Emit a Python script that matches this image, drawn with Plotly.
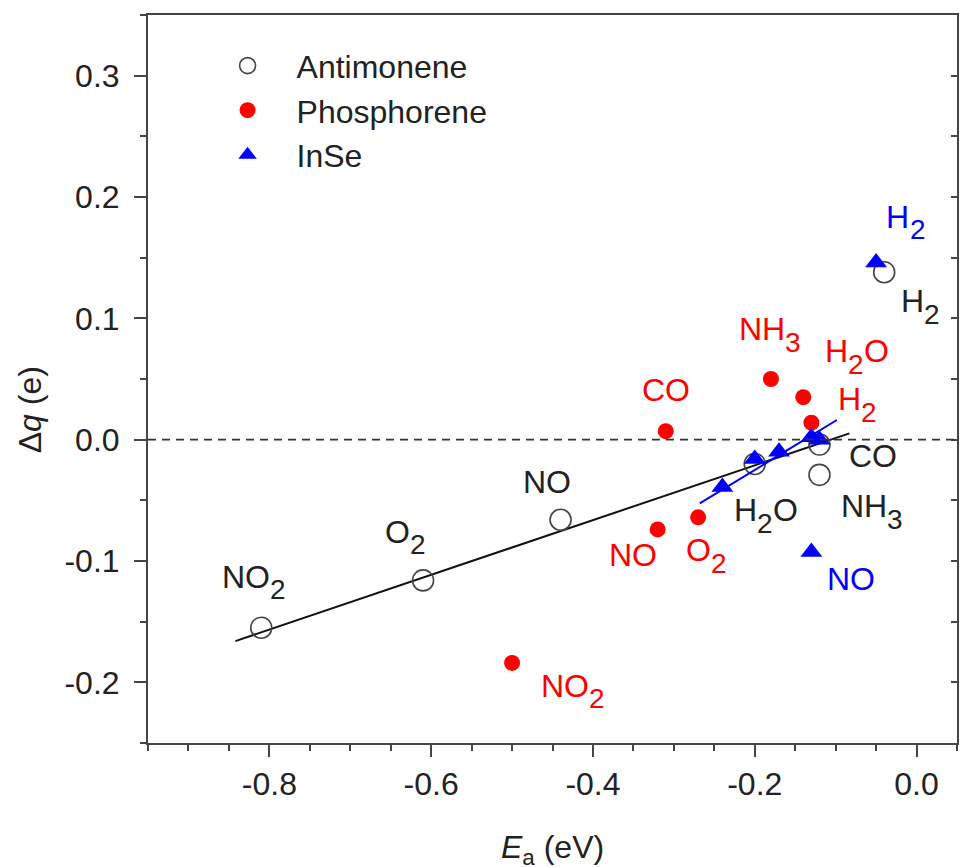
import re
import plotly.graph_objects as go

# ---------------- data ----------------
sb_ea = [-0.81, -0.61, -0.44, -0.20, -0.12, -0.12, -0.04]
sb_dq = [-0.155, -0.116, -0.066, -0.020, -0.004, -0.029, 0.138]

p_ea = [-0.50, -0.32, -0.27, -0.31, -0.18, -0.14, -0.13]
p_dq = [-0.184, -0.074, -0.064, 0.007, 0.050, 0.035, 0.014]

inse_ea = [-0.24, -0.20, -0.17, -0.13, -0.12, -0.05, -0.13]
inse_dq = [-0.039, -0.016, -0.010, 0.002, 0.000, 0.146, -0.0925]

sb_fit_x = [-0.842, -0.083]
sb_fit_y = [-0.166, 0.0052]
inse_fit_x = [-0.268, -0.0985]
inse_fit_y = [-0.0525, 0.0162]

# labels: text, x (left edge), y (centre of main line), colour
lab_text = ["NO<sub>2</sub>", "O<sub>2</sub>", "NO", "H<sub>2</sub>O", "CO", "NH<sub>3</sub>", "H<sub>2</sub>",
            "NO<sub>2</sub>", "O<sub>2</sub>", "NO", "CO", "NH<sub>3</sub>", "H<sub>2</sub>O", "H<sub>2</sub>",
            "H<sub>2</sub>", "NO"]
lab_x = [-0.860, -0.658, -0.488, -0.227, -0.085, -0.095, -0.020,
         -0.465, -0.286, -0.381, -0.340, -0.221, -0.114, -0.098,
         -0.0385, -0.112]
lab_y = [-0.113, -0.076, -0.035, -0.058, -0.0135, -0.055, 0.114,
         -0.203, -0.091, -0.095, 0.041, 0.091, 0.073, 0.0335,
         0.1836, -0.115]
lab_col = ["#222222"] * 7 + ["#ff0000"] * 7 + ["#0000ff"] * 2

x_ticks = [-0.8, -0.6, -0.4, -0.2, 0.0]
y_ticks = [-0.2, -0.1, 0.0, 0.1, 0.2, 0.3]
x_range = [-0.95, 0.05]
y_range = [-0.25, 0.35]

FONT = "Liberation Sans, Arial, sans-serif"
FS = 32
SUB_FS = 28
SUB_DY = 13
# Arial / Liberation Sans advance widths (em)
CHAR_W = {"N": 0.722, "O": 0.778, "H": 0.722, "C": 0.722, "2": 0.556, "3": 0.556}

fig = go.Figure()

fig.add_trace(go.Scatter(x=sb_fit_x, y=sb_fit_y, mode="lines",
                         line=dict(color="#111111", width=2), showlegend=False, hoverinfo="skip"))
fig.add_trace(go.Scatter(x=sb_ea, y=sb_dq, mode="markers", name="Antimonene",
                         marker=dict(symbol="circle-open", size=21, color="#444444",
                                     line=dict(color="#444444", width=1.6))))
fig.add_trace(go.Scatter(x=p_ea, y=p_dq, mode="markers", name="Phosphorene",
                         marker=dict(symbol="circle", size=16, color="#ff0000")))
fig.add_trace(go.Scatter(x=inse_fit_x, y=inse_fit_y, mode="lines",
                         line=dict(color="#0000ff", width=2), showlegend=False, hoverinfo="skip"))
fig.add_trace(go.Scatter(x=inse_ea, y=inse_dq, mode="markers", name="InSe",
                         marker=dict(symbol="triangle-up", size=19, color="#0000ff")))
# empty trace to bring up the right-hand inner tick axis
fig.add_trace(go.Scatter(x=[], y=[], yaxis="y2", showlegend=False, hoverinfo="skip"))

# zero reference line
fig.add_shape(type="line", xref="paper", x0=0, x1=1, yref="y", y0=0, y1=0,
              line=dict(color="#333333", width=1.6, dash="8px,6px"))


def add_label(x, y, text, color):
    parts = [p for p in re.split(r"(<sub>.*?</sub>)", text) if p]
    off = 0.0
    for p in parts:
        sub = p.startswith("<sub>")
        t = re.sub(r"</?sub>", "", p)
        size = SUB_FS if sub else FS
        fig.add_annotation(x=x, y=y, text=t, showarrow=False, xanchor="left", yanchor="middle",
                           xshift=off, yshift=-SUB_DY if sub else 0, borderpad=0,
                           font=dict(family=FONT, size=size, color=color))
        off += sum(CHAR_W.get(c, 0.6) for c in t) * size


for t, x, y, c in zip(lab_text, lab_x, lab_y, lab_col):
    add_label(x, y, t, c)

# axis titles
fig.add_annotation(xref="paper", yref="paper", x=0.5, y=0, yshift=-106,
                   text="<i>E</i><sub>a</sub> (eV)",
                   showarrow=False, xanchor="center", yanchor="middle",
                   font=dict(family=FONT, size=FS, color="#222222"))
fig.add_annotation(xref="paper", yref="paper", x=0, xshift=-118, y=0.457, text="Δ<i>q</i> (e)",
                   showarrow=False, xanchor="center", yanchor="middle", textangle=-90,
                   font=dict(family=FONT, size=FS, color="#222222"))

axis_common = dict(showline=True, linecolor="#444444", linewidth=2, mirror=True,
                   showgrid=False, zeroline=False, ticks="outside", ticklen=12, tickwidth=2,
                   tickcolor="#444444", tickfont=dict(family=FONT, size=FS, color="#222222"))

fig.update_layout(
    width=962, height=867,
    margin=dict(l=148, r=3, t=15, b=124),
    paper_bgcolor="white", plot_bgcolor="white",
    xaxis=dict(range=x_range, tickvals=x_ticks, ticktext=[f"{v:.1f}" for v in x_ticks],
               minor=dict(dtick=0.05, tick0=0, ticklen=6, tickwidth=2, tickcolor="#444444", ticks="outside"),
               ticklabelstandoff=0, **axis_common),
    yaxis=dict(range=y_range, tickvals=y_ticks, ticktext=[f"{v:.1f}" for v in y_ticks],
               minor=dict(dtick=0.05, tick0=0, ticklen=6, tickwidth=2, tickcolor="#444444", ticks="outside"),
               ticklabelstandoff=8, **axis_common),
    yaxis2=dict(range=y_range, overlaying="y", side="right", showticklabels=False, showgrid=False,
                zeroline=False, showline=False, ticks="inside", ticklen=6, tickwidth=2,
                tickcolor="#444444", dtick=0.05, tick0=0),
    legend=dict(x=0.0625, xanchor="left", y=0.968, yanchor="top", bgcolor="rgba(0,0,0,0)",
                font=dict(family=FONT, size=FS, color="#222222"), itemwidth=88,
                tracegroupgap=0),
    showlegend=True,
)

fig.write_html("out.html")
